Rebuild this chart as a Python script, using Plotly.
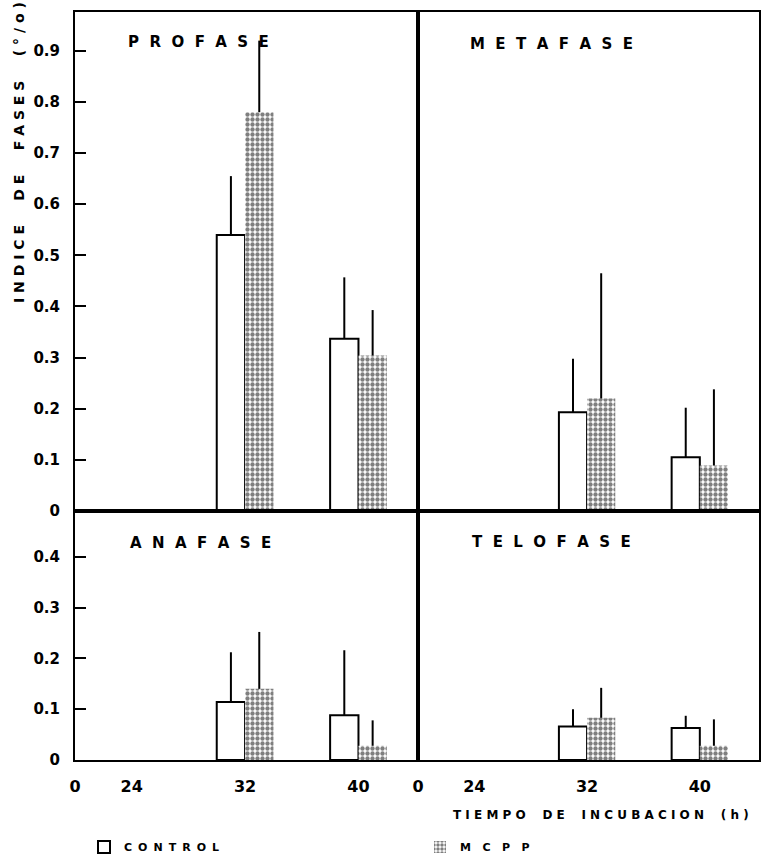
import plotly.graph_objects as go

# ---------------- data ----------------
hours = [32, 40]

profase_control = [0.54, 0.337]
profase_control_sd = [0.115, 0.12]
profase_mcpp = [0.78, 0.304]
profase_mcpp_sd = [0.14, 0.089]

metafase_control = [0.193, 0.105]
metafase_control_sd = [0.105, 0.097]
metafase_mcpp = [0.22, 0.089]
metafase_mcpp_sd = [0.245, 0.149]

anafase_control = [0.114, 0.088]
anafase_control_sd = [0.098, 0.128]
anafase_mcpp = [0.14, 0.028]
anafase_mcpp_sd = [0.112, 0.05]

telofase_control = [0.066, 0.063]
telofase_control_sd = [0.034, 0.024]
telofase_mcpp = [0.083, 0.028]
telofase_mcpp_sd = [0.059, 0.052]

x_tickvals = [20, 24, 32, 40]
x_ticktext = ["0", "24", "32", "40"]
y_top_ticks = [0, 0.1, 0.2, 0.3, 0.4, 0.5, 0.6, 0.7, 0.8, 0.9]
y_top_text = ["0", "0.1", "0.2", "0.3", "0.4", "0.5", "0.6", "0.7", "0.8", "0.9"]
y_bot_ticks = [0, 0.1, 0.2, 0.3, 0.4]
y_bot_text = ["0", "0.1", "0.2", "0.3", "0.4"]

W, H = 761, 854
NB = "\u00a0"
THIN = "\u2009"


def spaced(word, n=1, extra=""):
    return (NB * n + extra).join(list(word))


def px(x):
    return x / W


def py(y):
    return 1 - y / H


FONT = "DejaVu Sans"

panels = [
    ("x", "y", profase_control, profase_control_sd, profase_mcpp, profase_mcpp_sd, True),
    ("x2", "y2", metafase_control, metafase_control_sd, metafase_mcpp, metafase_mcpp_sd, False),
    ("x3", "y3", anafase_control, anafase_control_sd, anafase_mcpp, anafase_mcpp_sd, False),
    ("x4", "y4", telofase_control, telofase_control_sd, telofase_mcpp, telofase_mcpp_sd, False),
]

fig = go.Figure()
for xa, ya, c, csd, m, msd, show in panels:
    fig.add_trace(go.Bar(
        x=hours, y=c, xaxis=xa, yaxis=ya, offset=-2, width=2,
        name=spaced("CONTROL", 1, THIN), legend="legend", showlegend=show,
        marker=dict(color="white", line=dict(color="black", width=2)),
        error_y=dict(type="data", symmetric=False, array=csd, arrayminus=[0] * len(csd),
                     width=0, thickness=2, color="black"),
    ))
    fig.add_trace(go.Bar(
        x=hours, y=m, xaxis=xa, yaxis=ya, offset=0, width=2,
        name=spaced("MCPP", 3), legend="legend2", showlegend=show,
        marker=dict(color="white", line=dict(color="black", width=0),
                    pattern=dict(shape=".", fgcolor="black", bgcolor="white",
                                 size=5, solidity=0.6, fillmode="overlay")),
        error_y=dict(type="data", symmetric=False, array=msd, arrayminus=[0] * len(msd),
                     width=0, thickness=2, color="black"),
    ))

xl = [px(75), px(418)]
xr = [px(418), px(759)]
yt = [py(511), py(12)]
yb = [py(760), py(511)]
xrange_ = [20, 44.2]

axis_common = dict(showline=True, linecolor="black", linewidth=2, mirror=True,
                   showgrid=False, zeroline=False)

tickfont = dict(family=FONT, size=15, color="black", weight="bold")
legfont = dict(family=FONT, size=11, color="black", weight="bold")

fig.update_layout(
    width=W, height=H,
    margin=dict(l=0, r=0, t=0, b=0, autoexpand=False),
    paper_bgcolor="white", plot_bgcolor="white",
    barmode="overlay",
    xaxis=dict(domain=xl, anchor="y", range=xrange_, showticklabels=False, ticks="", **axis_common),
    xaxis2=dict(domain=xr, anchor="y2", range=xrange_, showticklabels=False, ticks="", **axis_common),
    xaxis3=dict(domain=xl, anchor="y3", range=xrange_, tickvals=x_tickvals, ticktext=x_ticktext,
                ticks="", tickfont=dict(family=FONT, size=16, color="black", weight="bold"),
                ticklabelstandoff=11, **axis_common),
    xaxis4=dict(domain=xr, anchor="y4", range=xrange_, tickvals=x_tickvals, ticktext=x_ticktext,
                ticks="", tickfont=dict(family=FONT, size=16, color="black", weight="bold"),
                ticklabelstandoff=11, **axis_common),
    yaxis=dict(domain=yt, anchor="x", range=[0, 0.976], tickvals=y_top_ticks, ticktext=y_top_text,
               ticks="inside", ticklen=11, tickwidth=2, tickcolor="black", tickfont=tickfont,
               ticklabelstandoff=10, **axis_common),
    yaxis2=dict(domain=yt, anchor="x2", range=[0, 0.976], showticklabels=False, ticks="", **axis_common),
    yaxis3=dict(domain=yb, anchor="x3", range=[0, 0.49], tickvals=y_bot_ticks, ticktext=y_bot_text,
                ticks="inside", ticklen=11, tickwidth=2, tickcolor="black", tickfont=tickfont,
                ticklabelstandoff=10, **axis_common),
    yaxis4=dict(domain=yb, anchor="x4", range=[0, 0.49], showticklabels=False, ticks="", **axis_common),
    legend=dict(orientation="h", x=px(84), y=py(847), xanchor="left", yanchor="middle",
                bgcolor="rgba(0,0,0,0)", font=legfont),
    legend2=dict(orientation="h", x=px(420), y=py(847), xanchor="left", yanchor="middle",
                 bgcolor="rgba(0,0,0,0)", font=legfont),
)

title_font = dict(family=FONT, size=15, color="black", weight="bold")
titles = [
    ("PROFASE", 128, 42),
    ("METAFASE", 470, 44),
    ("ANAFASE", 130, 543),
    ("TELOFASE", 472, 542),
]
for t, x, y in titles:
    fig.add_annotation(text=spaced(t, 2), x=px(x - 2), y=py(y), xref="paper", yref="paper",
                       xanchor="left", yanchor="middle", showarrow=False, font=title_font)

ytitle = (NB * 5).join([spaced("INDICE"), spaced("DE"), spaced("FASES"), spaced("(°/o)")])
fig.add_annotation(text=ytitle, x=px(19), y=py(153), xref="paper", yref="paper",
                   xanchor="center", yanchor="middle", textangle=-90, showarrow=False,
                   font=dict(family=FONT, size=14, color="black", weight="bold"))

xtitle = (NB * 4).join([spaced("TIEMPO"), spaced("DE"), spaced("INCUBACION"), spaced("(h)")])
fig.add_annotation(text=xtitle, x=px(451), y=py(815), xref="paper", yref="paper",
                   xanchor="left", yanchor="middle", showarrow=False,
                   font=dict(family=FONT, size=12, color="black", weight="bold"))

fig.write_html("out.html")
